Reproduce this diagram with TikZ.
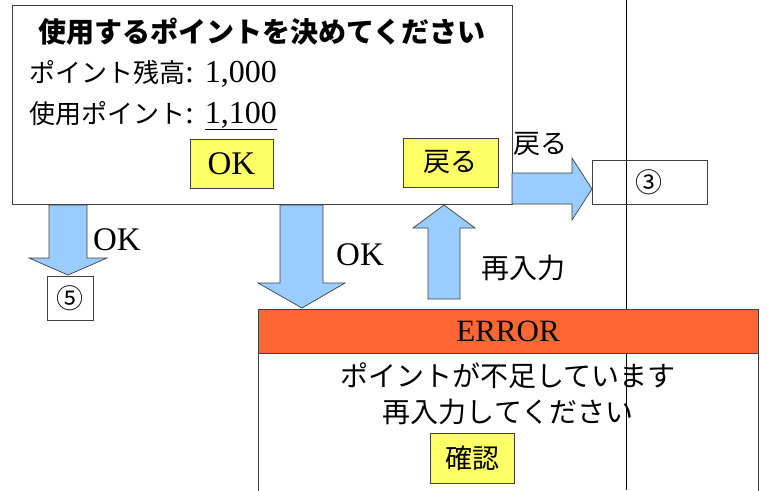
\documentclass[tikz,border=0pt]{standalone}
\usepackage{fontspec}
\setmainfont{Liberation Serif}
\newfontfamily\jp{Noto Sans CJK JP}
\definecolor{arrowblue}{HTML}{99CCFF}
\definecolor{btnyellow}{HTML}{FFFF66}
\definecolor{errorange}{HTML}{FF6633}
\definecolor{edge}{HTML}{404040}
\begin{document}
\begin{tikzpicture}[x=1pt,y=-1pt,
  frame/.style={draw=edge, line width=0.8pt, inner sep=0pt, outer sep=0pt, anchor=north west},
  btn/.style={frame, fill=btnyellow},
  blockarrow/.style={draw=edge, fill=arrowblue, line width=0.7pt, line join=miter},
  lat/.style={font=\fontsize{33}{35}\selectfont, inner sep=0pt},
  jpt/.style={font=\jp\fontsize{27}{30}\selectfont, inner sep=0pt},
  circ/.style={font=\jp\fontsize{27}{29}\selectfont, inner sep=0pt}]
\useasboundingbox (0,0) rectangle (767,490);
% vertical guide line
\coordinate (vtop) at (626,0);
\coordinate (vbot) at (626,490);
\draw[black, line width=0.8pt] (vtop) -- (vbot);

% main dialog
\node[frame, minimum width=500pt, minimum height=199pt] (main) at (12,5) {};
\node[font=\jp\bfseries\fontsize{28}{30}\selectfont, inner sep=0pt] (title) at (262,32) {使用するポイントを決めてください};
\node[anchor=base west, inner sep=0pt, font=\fontsize{32}{34}\selectfont] (bal) at (29,82) {{\jp\fontsize{26}{28}\selectfont ポイント残高}: 1,000};
\node[anchor=base west, inner sep=0pt, font=\fontsize{32}{34}\selectfont] (use) at (29,123) {{\jp\fontsize{26}{28}\selectfont 使用ポイント}: \underline{1,100}};
\node[btn, minimum width=83pt, minimum height=49pt] (okbtn) at (190,139) {};
\node[lat] (oktext) at (okbtn.center) {OK};
\node[btn, minimum width=95pt, minimum height=49pt] (backbtn) at (403,138) {};
\node[jpt] (backtext) at (backbtn.center) {戻る};

% right arrow to 3
\draw[blockarrow] (512,173) -- (572,173) -- (572,158) -- (592,189) -- (572,220) -- (572,204) -- (512,204) -- cycle;
\node[jpt] (backlabel) at (540,144) {戻る};
\node[frame, minimum width=115pt, minimum height=44pt] (three) at (592,160) {};
\node[circ] (threetext) at (649,182) {③};

% left arrow to 5
\draw[blockarrow] (49,205) -- (87,205) -- (87,258) -- (107,258) -- (68,275) -- (29,258) -- (49,258) -- cycle;
\node[lat] (oklabel1) at (117,240) {OK};
\node[frame, minimum width=46pt, minimum height=44pt] (five) at (47,276) {};
\node[circ] (fivetext) at (70,298) {⑤};

% middle arrow to error
\draw[blockarrow] (280,205) -- (323,205) -- (323,283) -- (345,283) -- (302,308) -- (258,283) -- (280,283) -- cycle;
\node[lat] (oklabel2) at (360,255) {OK};

% up arrow (re-input)
\draw[blockarrow] (428,299) -- (428,228) -- (413,228) -- (444,205) -- (475,228) -- (460,228) -- (460,299) -- cycle;
\node[jpt, font=\jp\fontsize{28}{30}\selectfont] (relabel) at (523,268) {再入力};

% error dialog
\node[frame, fill=errorange, minimum width=500pt, minimum height=44pt] (errhead) at (258,309) {};
\node[lat, font=\fontsize{31}{33}\selectfont] (errtext) at (errhead.center) {ERROR};
\coordinate (errbl) at (258,495);
\coordinate (errbr) at (758,495);
\draw[draw=edge, line width=0.8pt] (errhead.south west) -- (errbl);
\draw[draw=edge, line width=0.8pt] (errhead.south east) -- (errbr);
\node[jpt, font=\jp\fontsize{28}{30}\selectfont] (msg1) at (508,376) {ポイントが不足しています};
\node[jpt, font=\jp\fontsize{28}{30}\selectfont] (msg2) at (508,412) {再入力してください};
\node[btn, minimum width=84pt, minimum height=50pt] (confirm) at (430,433) {};
\node[jpt] (confirmtext) at (confirm.center) {確認};
\end{tikzpicture}
\end{document}
